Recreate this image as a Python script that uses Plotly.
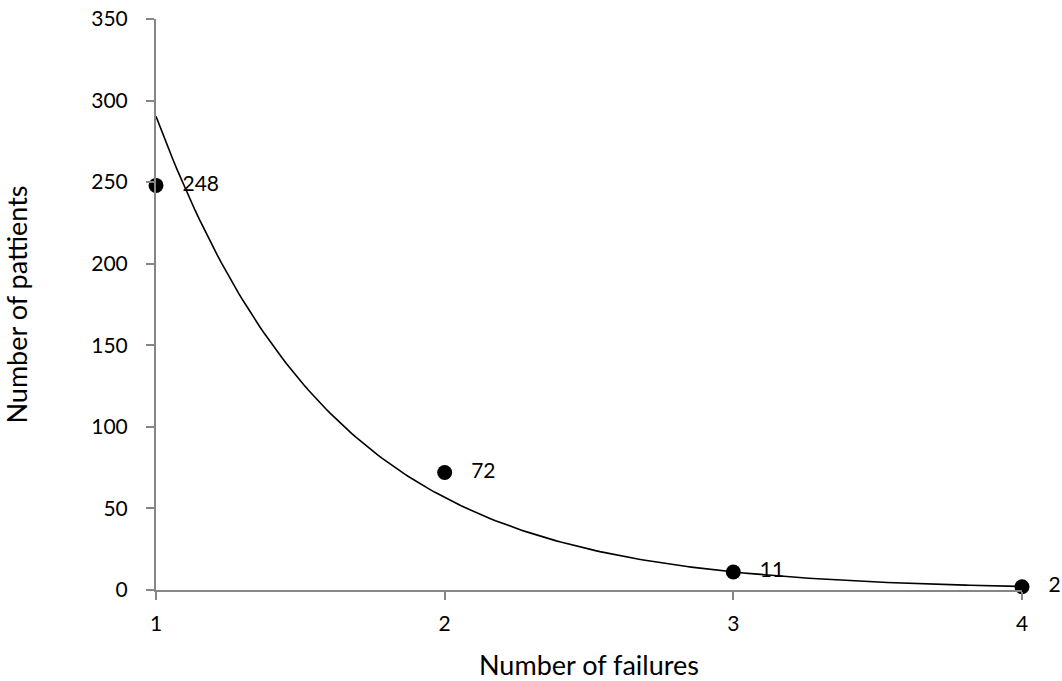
import numpy as np
import plotly.graph_objects as go

failures = [1, 2, 3, 4]
patients = [248, 72, 11, 2]
labels = ["248", "72", "11", "2"]

# Exponential trendline fitted to the data (least squares on log values)
b, ln_a = np.polyfit(failures, np.log(patients), 1)
xs = np.linspace(1, 4, 200)
ys = np.exp(ln_a + b * xs)

FONT = "Lato, 'Open Sans', sans-serif"
AXIS_COLOR = "#868686"

fig = go.Figure()
fig.add_trace(go.Scatter(
    x=failures, y=patients, mode="markers+text",
    marker=dict(color="black", size=15),
    text=["   " + t for t in labels], textposition="middle right",
    textfont=dict(family=FONT, size=21, color="black"),
    cliponaxis=False, showlegend=False,
))
fig.add_trace(go.Scatter(
    x=xs, y=ys, mode="lines",
    line=dict(color="black", width=1.6),
    cliponaxis=False, showlegend=False, hoverinfo="skip",
))

fig.update_layout(
    width=1062, height=681,
    margin=dict(l=156, r=40, t=19, b=91),
    paper_bgcolor="white", plot_bgcolor="white",
    font=dict(family=FONT, size=21, color="black"),
    xaxis=dict(
        range=[1, 4], tickvals=[1, 2, 3, 4], showgrid=False, zeroline=False,
        showline=True, linecolor=AXIS_COLOR, linewidth=2,
        ticks="outside", ticklen=8, tickcolor=AXIS_COLOR, tickwidth=2,
        tickfont=dict(size=21), ticklabelstandoff=6, ticklabeloverflow="allow",
        automargin=False,
        title=dict(text="Number of failures", font=dict(size=27), standoff=28),
    ),
    yaxis=dict(
        range=[0, 350], tickvals=[0, 50, 100, 150, 200, 250, 300, 350],
        showgrid=False, zeroline=False,
        showline=True, linecolor=AXIS_COLOR, linewidth=2,
        ticks="outside", ticklen=8, tickcolor=AXIS_COLOR, tickwidth=2,
        tickfont=dict(size=21), ticklabelstandoff=14, ticklabeloverflow="allow",
        automargin=False,
        title=dict(text="Number of pattients", font=dict(size=27), standoff=62),
    ),
)

fig.write_html(
    "out.html",
    config={"displayModeBar": False},
    post_script="document.body.style.margin='0';document.body.style.overflow='hidden';",
)
